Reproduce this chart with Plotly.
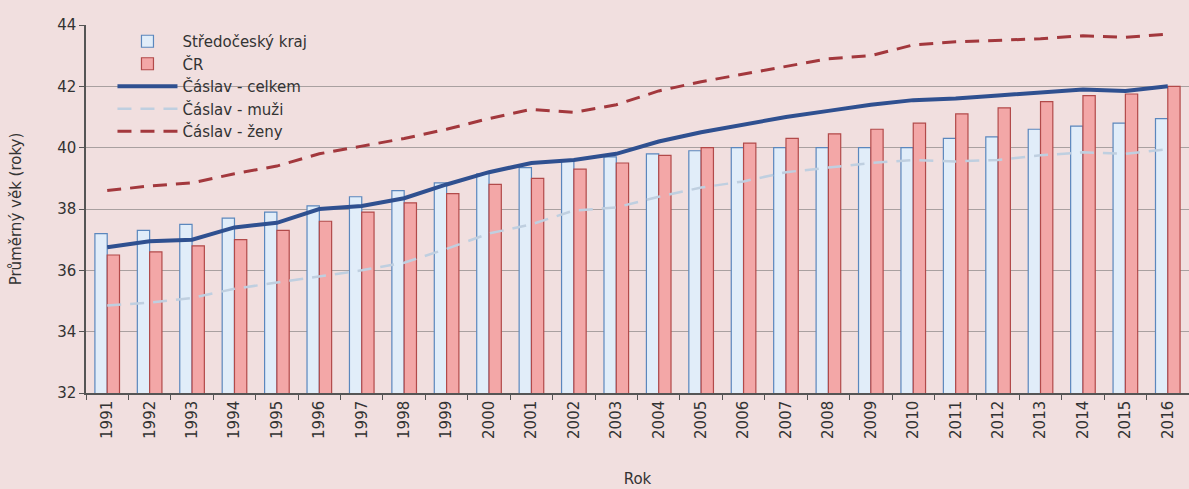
import plotly.graph_objects as go

years = [str(y) for y in range(1991, 2017)]

stredocesky = [37.2, 37.3, 37.5, 37.7, 37.9, 38.1, 38.4, 38.6, 38.85, 39.15, 39.35, 39.55, 39.7,
               39.8, 39.9, 40.0, 40.0, 40.0, 40.0, 40.0, 40.3, 40.35, 40.6, 40.7, 40.8, 40.95]
cr = [36.5, 36.6, 36.8, 37.0, 37.3, 37.6, 37.9, 38.2, 38.5, 38.8, 39.0, 39.3, 39.5,
      39.75, 40.0, 40.15, 40.3, 40.45, 40.6, 40.8, 41.1, 41.3, 41.5, 41.7, 41.75, 42.0]
caslav_celkem = [36.75, 36.95, 37.0, 37.4, 37.55, 38.0, 38.1, 38.35, 38.8, 39.2, 39.5, 39.6, 39.8,
                 40.2, 40.5, 40.75, 41.0, 41.2, 41.4, 41.55, 41.6, 41.7, 41.8, 41.9, 41.85, 42.0]
caslav_muzi = [34.85, 34.95, 35.1, 35.4, 35.6, 35.8, 36.0, 36.25, 36.7, 37.2, 37.5, 37.95, 38.05,
               38.4, 38.7, 38.9, 39.2, 39.35, 39.5, 39.6, 39.55, 39.6, 39.75, 39.85, 39.8, 39.95]
caslav_zeny = [38.6, 38.75, 38.85, 39.15, 39.4, 39.8, 40.05, 40.3, 40.6, 40.95, 41.25, 41.15, 41.4,
               41.85, 42.15, 42.4, 42.65, 42.9, 43.0, 43.35, 43.45, 43.5, 43.55, 43.65, 43.6, 43.7]

y_ticks = [32, 34, 36, 38, 40, 42, 44]

font_family = "DejaVu Sans"
bg = "#f1dfdf"

fig = go.Figure()
# muži line is drawn first so that it sits behind the bars, as in the reference
fig.add_trace(go.Scatter(
    x=years, y=caslav_muzi, name="Čáslav - muži", mode="lines", legendrank=4,
    line=dict(color="#bfcfe0", width=2.5, dash="14px,9px"),
))
fig.add_trace(go.Bar(
    x=years, y=stredocesky, name="Středočeský kraj", legendrank=1,
    marker=dict(color="#e1edf9", line=dict(color="#5b87bd", width=1.2)),
))
fig.add_trace(go.Bar(
    x=years, y=cr, name="ČR", legendrank=2,
    marker=dict(color="#f3a7a7", line=dict(color="#b24a4a", width=1.2)),
))
fig.add_trace(go.Scatter(
    x=years, y=caslav_celkem, name="Čáslav - celkem", mode="lines", legendrank=3,
    line=dict(color="#2f5090", width=4),
))
fig.add_trace(go.Scatter(
    x=years, y=caslav_zeny, name="Čáslav - ženy", mode="lines", legendrank=5,
    line=dict(color="#a3383d", width=3, dash="14px,9px"),
))

fig.update_layout(
    width=1189, height=489,
    margin=dict(l=86, r=0, t=25, b=96),
    paper_bgcolor=bg, plot_bgcolor=bg,
    font=dict(family=font_family, size=15, color="#333333"),
    barmode="group", bargap=0.42, bargroupgap=0.0,
    showlegend=True,
    legend=dict(
        x=0.024, y=1.0, xanchor="left", yanchor="top",
        bgcolor="rgba(0,0,0,0)", borderwidth=0,
        font=dict(size=15, color="#333333"),
        itemwidth=60, tracegroupgap=0,
    ),
    xaxis=dict(
        type="category", tickangle=-90, tickson="boundaries",
        ticks="outside", ticklen=5, tickcolor="#555555",
        showline=True, linecolor="#555555", linewidth=1.5,
        showgrid=False,
        title=dict(text="Rok", font=dict(size=15), standoff=36),
        tickfont=dict(size=15),
    ),
    yaxis=dict(
        range=[32, 44], tickvals=y_ticks,
        ticks="outside", ticklen=5, tickcolor="#555555",
        showline=True, linecolor="#555555", linewidth=1.5,
        showgrid=True, gridcolor="#a9a0a0", gridwidth=1,
        zeroline=False,
        title=dict(text="Průměrný věk (roky)", font=dict(size=15), standoff=32),
        tickfont=dict(size=15),
    ),
)

fig.write_html(
    "out.html",
    config={"displayModeBar": False},
    post_script="document.body.style.margin='0';document.body.style.background='%s';" % bg,
)
